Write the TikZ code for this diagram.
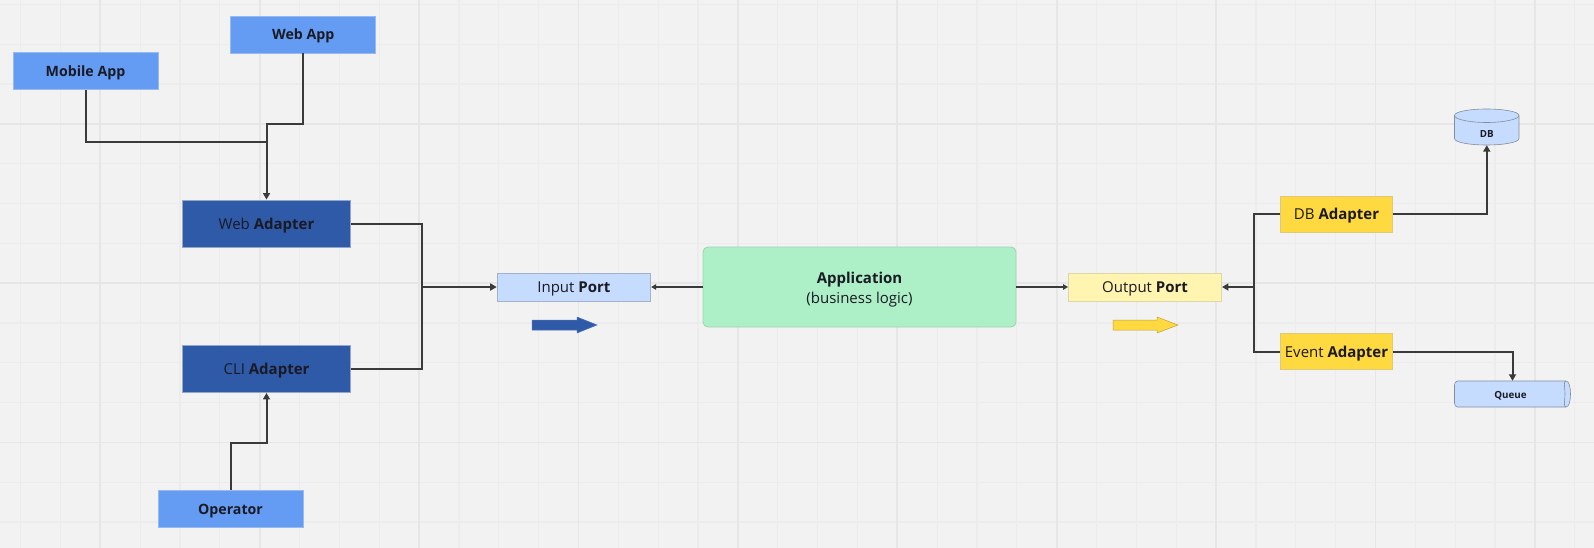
\documentclass[tikz,border=0pt]{standalone}
\usepackage{fontspec}
\setmainfont{Open Sans}
\usetikzlibrary{arrows.meta}
\definecolor{bgc}{HTML}{F2F2F2}
\definecolor{gridmin}{HTML}{ECECEC}
\definecolor{gridmaj}{HTML}{E6E6E6}
\definecolor{inkc}{HTML}{1A1A24}
\definecolor{linec}{HTML}{3A3A3A}
\definecolor{clientc}{HTML}{659CF3}
\definecolor{adapterc}{HTML}{2E5AA8}
\definecolor{portc}{HTML}{C6DCFF}
\definecolor{appc}{HTML}{ADF0C7}
\definecolor{outc}{HTML}{FFF4B0}
\definecolor{yelc}{HTML}{FFD93F}
\tikzset{
  box/.style={rectangle,inner sep=0pt,draw,line width=0.9pt,text=inkc,align=center},
  client/.style={box,fill=clientc,draw=clientc!60!gridmaj,minimum width=145pt,minimum height=37pt,text height=11pt,text depth=0pt,font=\fontsize{14.2}{16}\selectfont\bfseries},
  adapter/.style={box,fill=adapterc,draw=adapterc!45!gridmaj,minimum width=168pt,minimum height=47pt,text height=11.6pt,text depth=0pt,font=\fontsize{15}{17}\selectfont},
  inport/.style={box,fill=portc,draw=portc!75!black!85,minimum width=153.5pt,minimum height=28pt,text height=11.6pt,text depth=0pt,font=\fontsize{15}{17}\selectfont},
  outport/.style={box,fill=outc,draw=outc!85!black!85,minimum width=153pt,minimum height=28pt,text height=11.6pt,text depth=0pt,font=\fontsize{15}{17}\selectfont},
  yadapter/.style={box,fill=yelc,draw=yelc!55!gridmaj!90!black,minimum width=112pt,minimum height=36pt,text height=11.6pt,text depth=0pt,font=\fontsize{15}{17}\selectfont},
  appbox/.style={box,rounded corners=5pt,fill=appc,draw=appc!75!gray,minimum width=313pt,minimum height=80pt,text height=32.8pt,text depth=0pt,font=\fontsize{15}{20}\selectfont},
  storelabel/.style={inner sep=0pt,text=inkc,text depth=0pt,font=\fontsize{9.8}{11}\selectfont\bfseries},
  store/.style={fill=portc,draw=portc!55!black!85,line width=0.6pt},
  conn/.style={draw=linec,line width=2pt,line join=miter},
  thin conn/.style={draw=linec,line width=1.3pt},
  tip/.style={-{Triangle[length=6.5pt,width=7pt]}},
  thin tip/.style={-{Triangle[length=5pt,width=5.5pt]}},
  minor/.style={draw=gridmin,line width=1.2pt},
  major/.style={draw=gridmaj,line width=1.8pt}
}
\begin{document}
\begin{tikzpicture}[x=1pt,y=-1pt]
\useasboundingbox (0,0) rectangle (1594,548);
\fill[bgc] (0,0) rectangle (1594,548);
% grid
\foreach \i in {0,...,39}{\draw[minor] ({20.6+39.85*\i},0) -- ({20.6+39.85*\i},548);}
\foreach \i in {0,...,13}{\draw[minor] (0,{4.5+39.8*\i}) -- (1594,{4.5+39.8*\i});}
\foreach \i in {0,...,9}{\draw[major] ({100.3+159.4*\i},0) -- ({100.3+159.4*\i},548);}
\foreach \y in {124,283.2,442.4}{\draw[major] (0,\y) -- (1594,\y);}
% nodes
\node[client] (webapp) at (303.25,34.5) {Web App};
\node[client] (mobile) at (85.5,71) {Mobile App};
\node[client] (operator) at (230.5,508.5) {Operator};
\node[adapter] (webad) at (266.5,223.5) {Web \textbf{Adapter}};
\node[adapter] (cliad) at (266.5,369) {CLI \textbf{Adapter}};
\node[inport] (input) at (573.9,287) {Input \textbf{Port}};
\node[appbox] (app) at (859.5,287) {\textbf{Application}\\(business logic)};
\node[outport] (output) at (1145,287) {Output \textbf{Port}};
\node[yadapter] (dbad) at (1336.5,214) {DB \textbf{Adapter}};
\node[yadapter] (evad) at (1336.5,351.5) {Event \textbf{Adapter}};
% stores
\path[store] (1454.5,115.5) .. controls (1454.5,111.5) and (1470,109) .. (1486.5,109) .. controls (1503,109) and (1519,111.5) .. (1519,115.5) -- (1519,138.5) .. controls (1519,142.5) and (1503,145) .. (1486.5,145) .. controls (1470,145) and (1454.5,142.5) .. (1454.5,138.5) -- cycle;
\draw[store,fill=none] (1454.5,115.5) .. controls (1454.5,119.5) and (1470,122.5) .. (1486.5,122.5) .. controls (1503,122.5) and (1519,119.5) .. (1519,115.5);
\node[storelabel,minimum width=65pt,minimum height=36pt,text height=21pt] (db) at (1486.75,127) {DB};
\path[store] (1457.5,381) -- (1566,381) .. controls (1569,381) and (1570.5,387) .. (1570.5,394) .. controls (1570.5,401) and (1569,407) .. (1566,407) -- (1457.5,407) .. controls (1455.5,407) and (1454.5,405) .. (1454.5,403) -- (1454.5,385) .. controls (1454.5,383) and (1455.5,381) .. (1457.5,381) -- cycle;
\draw[store,fill=none] (1566,381) .. controls (1563,381) and (1565,387) .. (1565,394) .. controls (1565,401) and (1563,407) .. (1566,407);
\node[storelabel,minimum width=116pt,minimum height=26pt,text height=8pt] (queue) at (1512.5,394) {\hspace{-4pt}Queue};
% block arrows
\path[fill=adapterc,draw=adapterc!85!white,line width=0.5pt] (532,320) -- (577,320) -- (577,317) -- (597,325) -- (577,333) -- (577,330) -- (532,330) -- cycle;
\path[fill=yelc,draw=yelc!70!black!90,line width=0.5pt] (1113,320) -- (1157,320) -- (1157,317) -- (1178,325) -- (1157,333) -- (1157,330) -- (1113,330) -- cycle;
% junction points
\coordinate (jw) at (webad.north |- 0,142.5);
\coordinate (jwa) at (webad.north |- 0,124);
\coordinate (ji) at (422,287);
\coordinate (jo) at (1254,287);
\coordinate (jop) at (cliad.south |- 0,443);
% connectors
\draw[conn] (mobile.south) |- (jw);
\draw[conn,tip] (webapp.south) |- (jwa) -- (webad.north);
\draw[conn] (webad.east) -| (ji);
\draw[conn] (cliad.east) -| (ji);
\draw[conn,tip] (ji) -- (input.west);
\draw[thin conn,thin tip] (app.west) -- (input.east);
\draw[thin conn,thin tip] (app.east) -- (output.west);
\draw[conn] (dbad.west) -| (jo);
\draw[conn] (evad.west) -| (jo);
\draw[conn,tip] (jo) -- (output.east);
\draw[conn,tip] (dbad.east) -| (db.south);
\draw[conn,tip] (evad.east) -| (queue.north);
\draw[conn,tip] (operator.north) |- (jop) -- (cliad.south);
\end{tikzpicture}
\end{document}
